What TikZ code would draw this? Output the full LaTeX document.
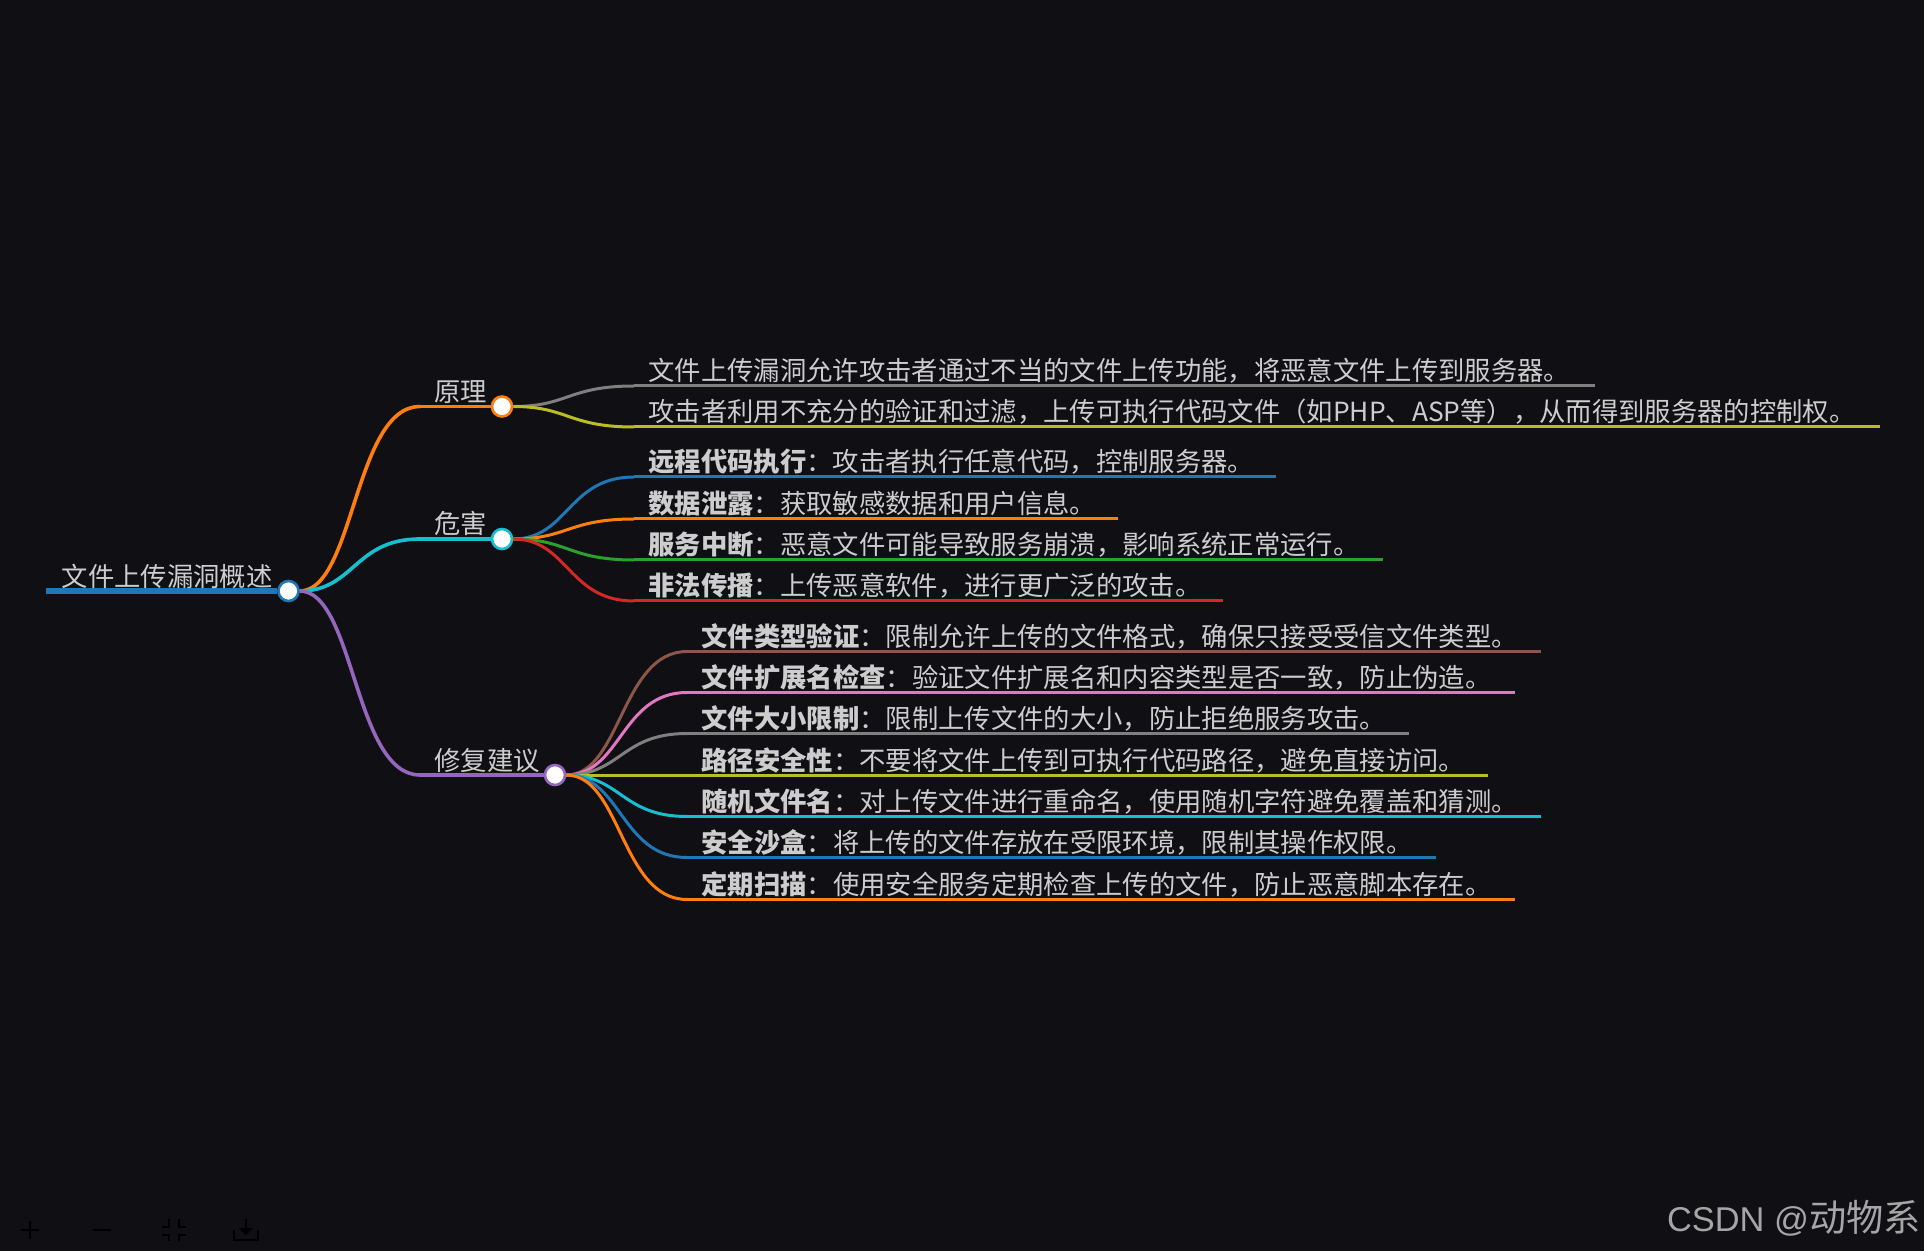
\documentclass[tikz,border=0pt]{standalone}
\usepackage{fontspec}
\setmainfont{Noto Sans CJK SC}
\newfontfamily\markfont{Liberation Sans}
\usepackage{xcolor}
\usetikzlibrary{calc}

\definecolor{bgdark}{HTML}{0F0F14}
\definecolor{labelgray}{HTML}{CDCDCD}
\definecolor{markgray}{HTML}{A6A6A6}
\definecolor{catblue}{HTML}{1F77B4}
\definecolor{catorange}{HTML}{FF7F0E}
\definecolor{catgreen}{HTML}{2CA02C}
\definecolor{catred}{HTML}{D62728}
\definecolor{catpurple}{HTML}{9467BD}
\definecolor{catbrown}{HTML}{8C564B}
\definecolor{catpink}{HTML}{E377C2}
\definecolor{catgray}{HTML}{7F7F7F}
\definecolor{catolive}{HTML}{BCBD22}
\definecolor{catcyan}{HTML}{17BECF}

\tikzset{
    topic/.style={inner sep=0pt, anchor=base west, text=labelgray, font=\fontsize{13.17pt}{15pt}\selectfont},
    dot/.style={circle, draw=#1, fill=white, line width=1.3pt, inner sep=0pt, minimum size=10pt},
    branch/.style={line width=1.8pt},
    twig/.style={line width=1.5pt},
    toolicon/.style={line width=1.2pt, draw=black}
}

% curve between two points, bending halfway
\newcommand{\mindlink}[3]{
    \coordinate (mid) at ($(#2)!0.5!(#3)$);
    \draw[#1] (#2) .. controls (mid |- #2) and (mid |- #3) .. (#3);
}

\begin{document}
\begin{tikzpicture}[x=0.5pt, y=-0.5pt]
\fill[bgdark] (0,0) rectangle (1924,1251);

% Dots
\node[dot=catblue] (rootdot) at (288.5,591) {};
\node[dot=catorange] (basisdot) at (502,406.5) {};
\node[dot=catcyan] (harmdot) at (502,539) {};
\node[dot=catpurple] (fixdot) at (555,775) {};

% Root
\coordinate (rootstart) at (46,591);
\draw[catblue, line width=3.2pt] (rootstart) -- (rootdot);
\node[topic, anchor=base east] (roottext) at (273,586.5) {文件上传漏洞概述};

% Main branches
\coordinate (basisknee) at (420,406.5);
\coordinate (harmknee) at (420,539);
\coordinate (fixknee) at (420,775);
\mindlink{branch, catorange}{rootdot}{basisknee}
\mindlink{branch, catcyan}{rootdot}{harmknee}
\mindlink{branch, catpurple}{rootdot}{fixknee}
\draw[branch, catorange] (basisknee) -- (basisdot);
\draw[branch, catcyan] (harmknee) -- (harmdot);
\draw[branch, catpurple] (fixknee) -- (fixdot);
\node[topic] (basistext) at (434,401.5) {原理};
\node[topic] (harmtext) at (434,534) {危害};
\node[topic] (fixtext) at (434,770) {修复建议};

% Basis leaves
\foreach \n/\y/\xend/\col/\txt in {
    a/386/1595/catgray/{文件上传漏洞允许攻击者通过不当的文件上传功能，将恶意文件上传到服务器。},
    b/427/1880/catolive/{攻击者利用不充分的验证和过滤，上传可执行代码文件（如PHP、ASP等），从而得到服务器的控制权。}} {
    \coordinate (knee\n) at (634,\y);
    \coordinate (end\n) at (\xend,\y);
    \mindlink{twig, \col}{basisdot}{knee\n}
    \draw[twig, \col] (knee\n) -- (end\n);
    \node[topic] (leaf\n) at (648,\y-5) {\txt};
}

% Harm leaves
\foreach \n/\y/\xend/\col/\txt in {
    c/477/1276/catblue/{\textbf{远程代码执行}：攻击者执行任意代码，控制服务器。},
    d/519/1118/catorange/{\textbf{数据泄露}：获取敏感数据和用户信息。},
    e/560/1383/catgreen/{\textbf{服务中断}：恶意文件可能导致服务崩溃，影响系统正常运行。},
    f/601/1223/catred/{\textbf{非法传播}：上传恶意软件，进行更广泛的攻击。}} {
    \coordinate (knee\n) at (634,\y);
    \coordinate (end\n) at (\xend,\y);
    \mindlink{twig, \col}{harmdot}{knee\n}
    \draw[twig, \col] (knee\n) -- (end\n);
    \node[topic] (leaf\n) at (648,\y-5) {\txt};
}

% Fix leaves
\foreach \n/\y/\xend/\col/\txt in {
    g/651.5/1541/catbrown/{\textbf{文件类型验证}：限制允许上传的文件格式，确保只接受受信文件类型。},
    h/692.5/1515/catpink/{\textbf{文件扩展名检查}：验证文件扩展名和内容类型是否一致，防止伪造。},
    i/733.5/1409/catgray/{\textbf{文件大小限制}：限制上传文件的大小，防止拒绝服务攻击。},
    j/775/1488/catolive/{\textbf{路径安全性}：不要将文件上传到可执行代码路径，避免直接访问。},
    k/816.5/1541/catcyan/{\textbf{随机文件名}：对上传文件进行重命名，使用随机字符避免覆盖和猜测。},
    l/857.5/1436/catblue/{\textbf{安全沙盒}：将上传的文件存放在受限环境，限制其操作权限。},
    m/899.5/1515/catorange/{\textbf{定期扫描}：使用安全服务定期检查上传的文件，防止恶意脚本存在。}} {
    \coordinate (knee\n) at (687,\y);
    \coordinate (end\n) at (\xend,\y);
    \mindlink{twig, \col}{fixdot}{knee\n}
    \draw[twig, \col] (knee\n) -- (end\n);
    \node[topic] (leaf\n) at (701,\y-5) {\txt};
}

% Toolbar
\draw[toolicon] (21,1230) -- (39,1230) (30,1221) -- (30,1239);
\draw[toolicon] (93,1230) -- (111,1230);
\draw[toolicon] (162,1227) -- (169,1227) -- (169,1219) (179,1219) -- (179,1227) -- (186,1227)
    (162,1235) -- (169,1235) -- (169,1241) (179,1241) -- (179,1235) -- (186,1235);
\draw[toolicon] (234,1230) -- (234,1240) -- (258,1240) -- (258,1230);
\draw[toolicon] (246,1219) -- (246,1232);
\fill[black] (239,1228) -- (253,1228) -- (246,1235) -- cycle;

% Watermark
\node[inner sep=0pt, anchor=base east, text=markgray, font=\fontsize{17.2pt}{20pt}\selectfont] (watermark) at (1921,1231) {{\markfont CSDN @}{\fontsize{18.6pt}{20pt}\selectfont 动物系}};
\end{tikzpicture}
\end{document}
